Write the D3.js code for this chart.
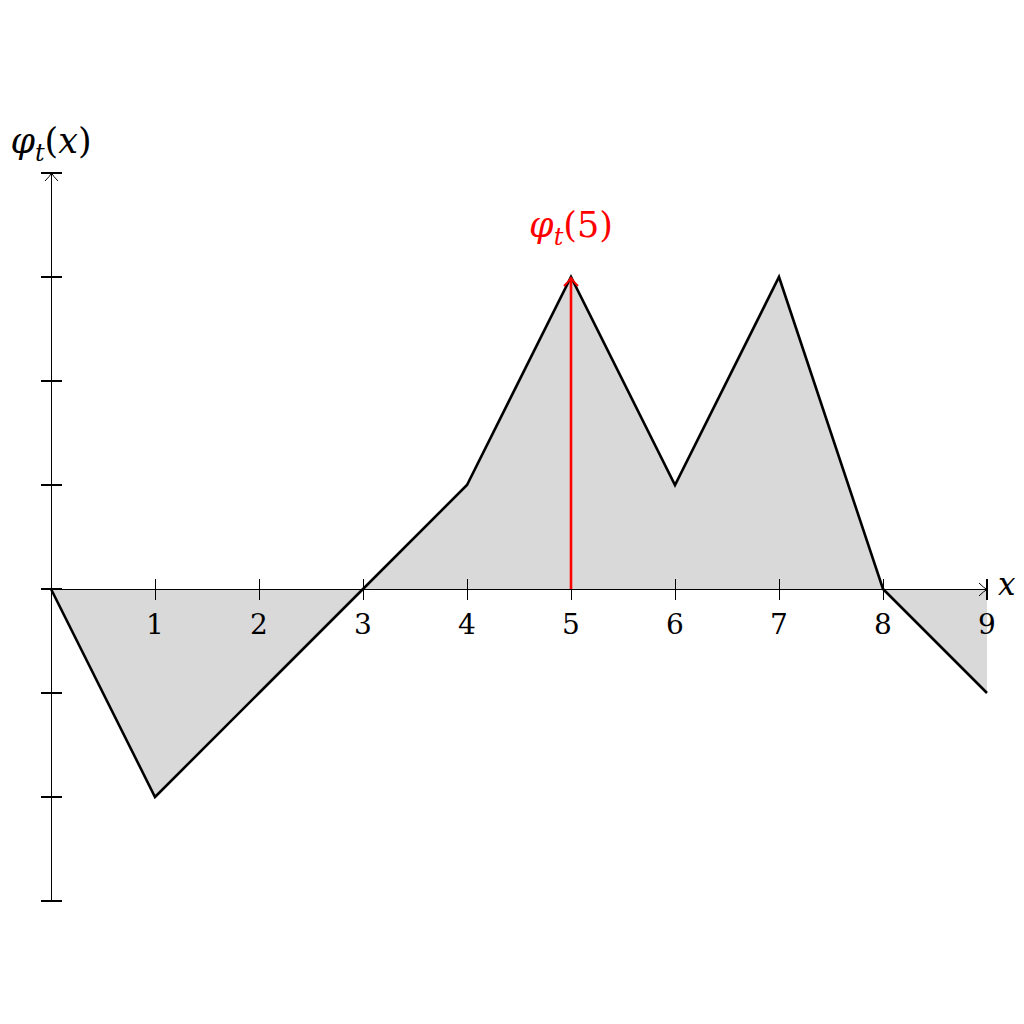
<!DOCTYPE html>
<html><head><meta charset="utf-8">
<script src="https://cdn.jsdelivr.net/npm/d3@7"></script>
<style>body{margin:0;background:#fff}svg{display:block}</style>
</head><body>
<svg id="c" width="1024" height="1024"></svg>
<script>
const xValues = [0,1,2,3,4,5,6,7,8,9];
const yValues = [0,-2,-1,0,1,3,1,3,0,-1];
const xTickLabels = ["1","2","3","4","5","6","7","8","9"];
const yTicks = [-3,-2,-1,0,1,2,3];
const highlightX = 5;
const FONT = "DejaVu Serif";

const svg = d3.select("#c");
const x = d3.scaleLinear().domain([0,9]).range([51,987]);
const y = d3.scaleLinear().domain([-3,4]).range([901,173]);
const pts = xValues.map((v,i)=>[v,yValues[i]]);
const h = 0.5;

// fill
svg.append("path").datum(pts)
  .attr("d", d3.area().x(d=>x(d[0])).y0(y(0)).y1(d=>y(d[1])))
  .attr("fill","#d9d9d9");

// x axis
svg.append("line").attr("x1",x(0)).attr("x2",x(9)).attr("y1",y(0)+h).attr("y2",y(0)+h).attr("stroke","#000").attr("stroke-width",1);
xTickLabels.forEach((t,i)=>{
  const v=+t;
  const last = i===xTickLabels.length-1;
  svg.append("line").attr("x1",x(v)+(last?0:h)).attr("x2",x(v)+(last?0:h)).attr("y1",y(0)-10).attr("y2",y(0)+11)
    .attr("stroke","#000").attr("stroke-width", last?2:1);
  svg.append("text").attr("x",x(v)).attr("y",y(0)+45).attr("text-anchor","middle")
    .attr("font-family",FONT).attr("font-size",28).text(t);
});
// x arrowhead
svg.append("path").attr("d",`M${x(9)-8},${y(0)-6} Q${x(9)-3},${y(0)-1} ${x(9)},${y(0)+h} Q${x(9)-3},${y(0)+2} ${x(9)-8},${y(0)+7}`).attr("fill","none").attr("stroke","#000").attr("stroke-width",1);
svg.append("text").attr("x",x(9)+11).attr("y",y(0)+6).attr("font-family",FONT).attr("font-size",31).attr("font-style","italic").text("x");

// y axis
svg.append("line").attr("x1",x(0)+h).attr("x2",x(0)+h).attr("y1",y(-3)).attr("y2",y(4)).attr("stroke","#000").attr("stroke-width",1);
yTicks.concat([4]).forEach(v=>{
  svg.append("line").attr("x1",x(0)-10).attr("x2",x(0)+11).attr("y1",y(v)).attr("y2",y(v)).attr("stroke","#000").attr("stroke-width",2);
});
svg.append("path").attr("d",`M${x(0)-6},${y(4)+8} Q${x(0)-1},${y(4)+3} ${x(0)+h},${y(4)} Q${x(0)+2},${y(4)+3} ${x(0)+7},${y(4)+8}`).attr("fill","none").attr("stroke","#000").attr("stroke-width",1);

function mathLabel(sel, arg, italicArg){
  sel.attr("font-family",FONT);
  sel.append("tspan").attr("font-style","italic").text("φ");
  sel.append("tspan").attr("font-style","italic").attr("font-size",24).attr("dy",8).text("t");
  sel.append("tspan").attr("dy",-8).text("(");
  sel.append("tspan").attr("font-style",italicArg?"italic":"normal").text(arg);
  sel.append("tspan").text(")");
}
const yl = svg.append("text").attr("x",x(0)).attr("y",y(4)-20).attr("text-anchor","middle").attr("font-size",35);
mathLabel(yl,"x",true);

// curve
svg.append("path").datum(pts)
  .attr("d", d3.line().x(d=>x(d[0])).y(d=>y(d[1])))
  .attr("fill","none").attr("stroke","#000").attr("stroke-width",2.6).attr("stroke-linejoin","miter");

// red arrow
const hy = yValues[xValues.indexOf(highlightX)];
svg.append("line").attr("x1",x(highlightX)).attr("x2",x(highlightX)).attr("y1",y(0)).attr("y2",y(hy)+1)
  .attr("stroke","red").attr("stroke-width",2.6);
svg.append("path").attr("d",`M${x(highlightX)-7},${y(hy)+9} Q${x(highlightX)-2},${y(hy)+4} ${x(highlightX)},${y(hy)+1} Q${x(highlightX)+2},${y(hy)+4} ${x(highlightX)+7},${y(hy)+9}`)
  .attr("fill","none").attr("stroke","red").attr("stroke-width",2);
const rl = svg.append("text").attr("x",x(highlightX)).attr("y",y(hy)-40).attr("text-anchor","middle").attr("font-size",35).attr("fill","red");
mathLabel(rl,"5",false);
</script>
</body></html>
